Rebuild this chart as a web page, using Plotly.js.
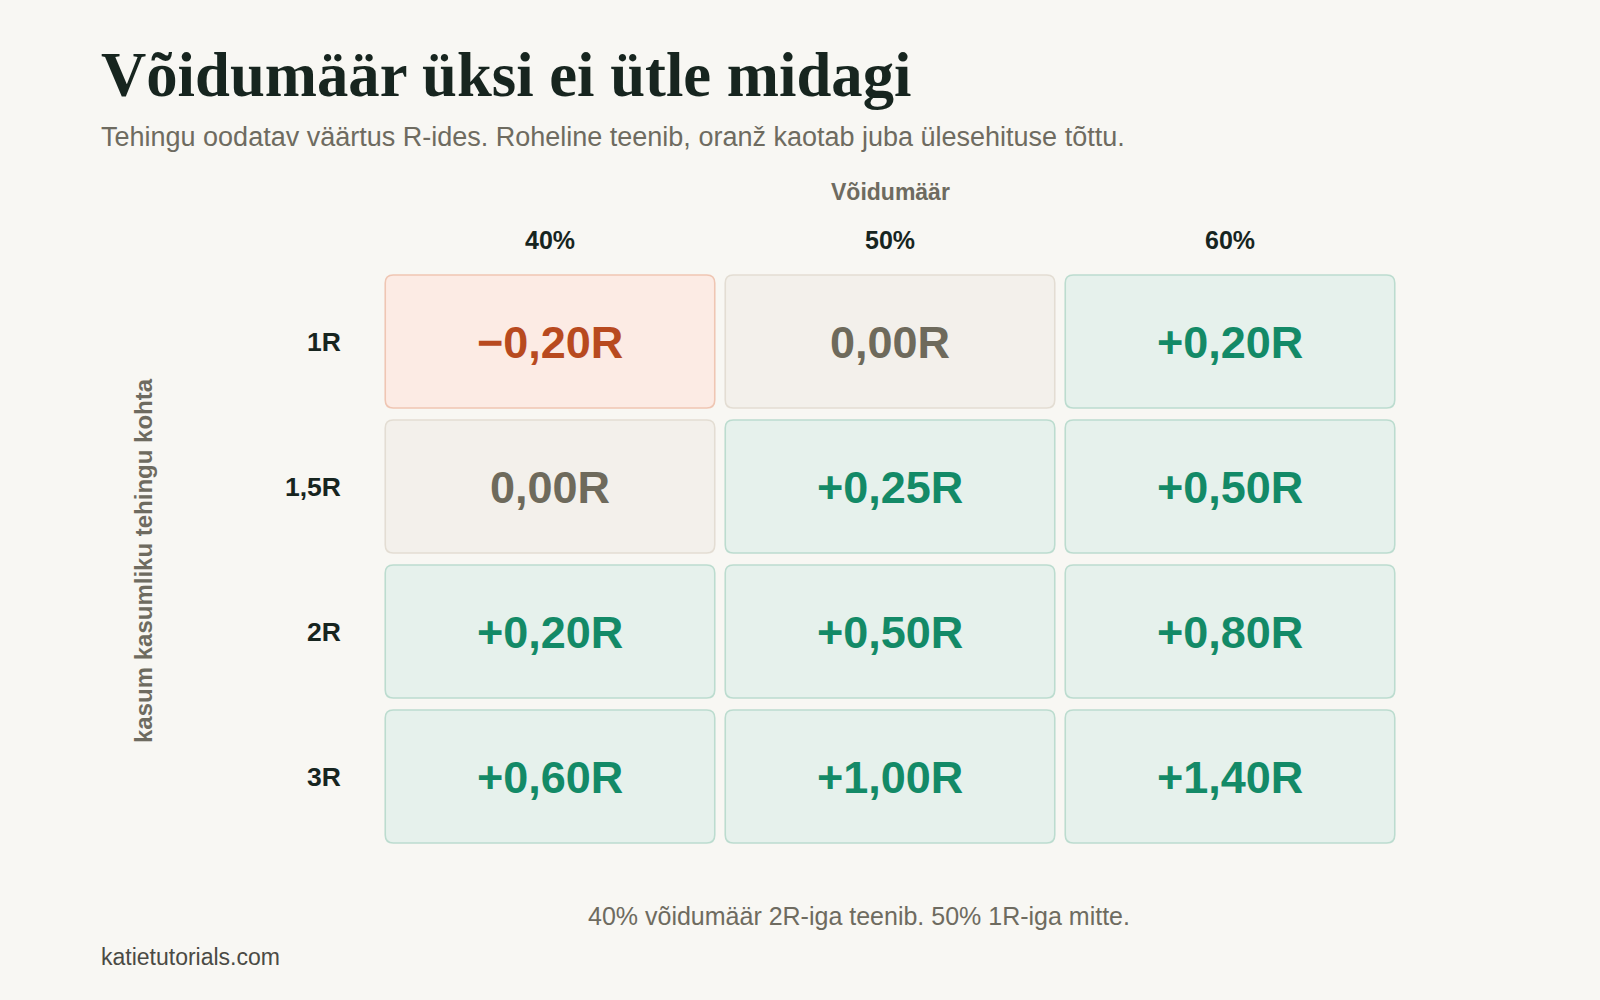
<!DOCTYPE html>
<html>
<head>
<meta charset="utf-8">
<script src="https://cdn.plot.ly/plotly-3.0.1.min.js"></script>
<style>
  html, body { margin: 0; padding: 0; background: #f8f7f3; }
  #chart { width: 1600px; height: 1000px; }
</style>
</head>
<body>
<div id="chart"></div>
<script>
// ---- Data ----
const winRates = ['40%', '50%', '60%'];
const rewards = ['1R', '1,5R', '2R', '3R'];
const ev_1R   = [-0.20, 0.00, 0.20];
const ev_15R  = [0.00, 0.25, 0.50];
const ev_2R   = [0.20, 0.50, 0.80];
const ev_3R   = [0.60, 1.00, 1.40];
const evRows = [ev_1R, ev_15R, ev_2R, ev_3R];

const titleText = 'Võidumäär üksi ei ütle midagi';
const subtitleText = 'Tehingu oodatav väärtus R-ides. Roheline teenib, oranž kaotab juba ülesehituse tõttu.';
const xTitleText = 'Võidumäär';
const yTitleText = 'kasum kasumliku tehingu kohta';
const noteText = '40% võidumäär 2R-iga teenib. 50% 1R-iga mitte.';
const sourceText = 'katietutorials.com';

// ---- Styles ----
const BG = '#f8f7f3';
const styles = {
  neg:  { fill: '#fcebe4', line: '#efc6b3', text: '#b84a1f' },
  zero: { fill: '#f3f0eb', line: '#e3ddd3', text: '#6e6a5c' },
  pos:  { fill: '#e6f1ec', line: '#bcdccf', text: '#138a67' }
};
function kind(v) { return v < 0 ? 'neg' : (v > 0 ? 'pos' : 'zero'); }
function fmt(v) {
  const s = Math.abs(v).toFixed(2).replace('.', ',');
  if (v < 0) return '\u2212' + s + 'R';
  if (v > 0) return '+' + s + 'R';
  return s + 'R';
}

// ---- Geometry (layout) ----
const W = 1600, H = 1000;
const M = { l: 380, r: 200, t: 269, b: 151 };
const plotW = W - M.l - M.r, plotH = H - M.t - M.b;
const colPitch = plotW / winRates.length;
const rowPitch = plotH / rewards.length;
const hw = (329.5 / 2) / colPitch;
const hh = (133 / 2) / rowPitch;
const rx = 8 / colPitch, ry = 8 / rowPitch;

function roundRect(cx, cy) {
  const x0 = cx - hw, x1 = cx + hw, y0 = cy - hh, y1 = cy + hh;
  return 'M' + (x0 + rx) + ',' + y0 +
    ' L' + (x1 - rx) + ',' + y0 +
    ' Q' + x1 + ',' + y0 + ' ' + x1 + ',' + (y0 + ry) +
    ' L' + x1 + ',' + (y1 - ry) +
    ' Q' + x1 + ',' + y1 + ' ' + (x1 - rx) + ',' + y1 +
    ' L' + (x0 + rx) + ',' + y1 +
    ' Q' + x0 + ',' + y1 + ' ' + x0 + ',' + (y1 - ry) +
    ' L' + x0 + ',' + (y0 + ry) +
    ' Q' + x0 + ',' + y0 + ' ' + (x0 + rx) + ',' + y0 + ' Z';
}

const SANS = 'Liberation Sans, Arial, sans-serif';
const shapes = [];
const cellLabels = [];
evRows.forEach((row, ri) => {
  row.forEach((v, ci) => {
    const st = styles[kind(v)];
    shapes.push({
      type: 'path', xref: 'x', yref: 'y', path: roundRect(ci, ri),
      fillcolor: st.fill, line: { color: st.line, width: 1.6 }, layer: 'below'
    });
    cellLabels.push({
      text: '<b>' + fmt(v) + '</b>', xref: 'x', yref: 'y', x: ci, y: ri,
      xanchor: 'center', yanchor: 'middle', yshift: -1, showarrow: false,
      font: { family: SANS, size: 45, color: st.text }
    });
  });
});

function px(x) { return (x - M.l) / plotW; }
function py(y) { return (H - M.b - y) / plotH; }

const annotations = [
  { text: titleText, xref: 'paper', yref: 'paper', x: px(99), y: py(75), xanchor: 'left', yanchor: 'middle',
    showarrow: false, font: { family: 'Liberation Serif, Times New Roman, serif', size: 62.7, color: '#17251f', weight: 700 } },
  { text: subtitleText, xref: 'paper', yref: 'paper', x: px(99), y: py(137), xanchor: 'left', yanchor: 'middle',
    showarrow: false, font: { family: SANS, size: 27, color: '#6e6b60' } },
  { text: '<b>' + xTitleText + '</b>', xref: 'paper', yref: 'paper', x: 0.5, y: py(192), xanchor: 'center', yanchor: 'middle',
    showarrow: false, font: { family: SANS, size: 23, color: '#6e6b60' } },
  { text: '<b>' + yTitleText + '</b>', xref: 'paper', yref: 'paper', x: px(143), y: py(561), xanchor: 'center', yanchor: 'middle',
    textangle: -90, showarrow: false, font: { family: SANS, size: 24, color: '#6e6b60' } },
  { text: noteText, xref: 'paper', yref: 'paper', x: px(859), y: py(916), xanchor: 'center', yanchor: 'middle',
    showarrow: false, font: { family: SANS, size: 25, color: '#6e6b60' } },
  { text: sourceText, xref: 'paper', yref: 'paper', x: px(99), y: py(957), xanchor: 'left', yanchor: 'middle',
    showarrow: false, font: { family: SANS, size: 23, color: '#4a4a44' } }
].concat(cellLabels);

const layout = {
  width: W, height: H,
  paper_bgcolor: BG, plot_bgcolor: BG,
  margin: M,
  showlegend: false,
  xaxis: {
    range: [-0.5, winRates.length - 0.5], side: 'top',
    tickvals: winRates.map((_, i) => i), ticktext: winRates.map(s => '<b>' + s + '</b>'),
    showgrid: false, zeroline: false, showline: false, ticks: '',
    ticklabelstandoff: 14,
    tickfont: { family: SANS, size: 25, color: '#17251f' }, fixedrange: true
  },
  yaxis: {
    range: [rewards.length - 0.5, -0.5],
    tickvals: rewards.map((_, i) => i), ticktext: rewards.map(s => '<b>' + s + '</b>'),
    showgrid: false, zeroline: false, showline: false, ticks: '',
    ticklabelstandoff: 38,
    tickfont: { family: SANS, size: 26.5, color: '#17251f' }, fixedrange: true
  },
  shapes: shapes,
  annotations: annotations
};

const anchorTrace = {
  type: 'scatter', mode: 'markers', x: [0, winRates.length - 1], y: [0, rewards.length - 1],
  marker: { opacity: 0 }, hoverinfo: 'skip', showlegend: false
};

Plotly.newPlot('chart', [anchorTrace], layout, { displayModeBar: false, staticPlot: true });
</script>
</body>
</html>
